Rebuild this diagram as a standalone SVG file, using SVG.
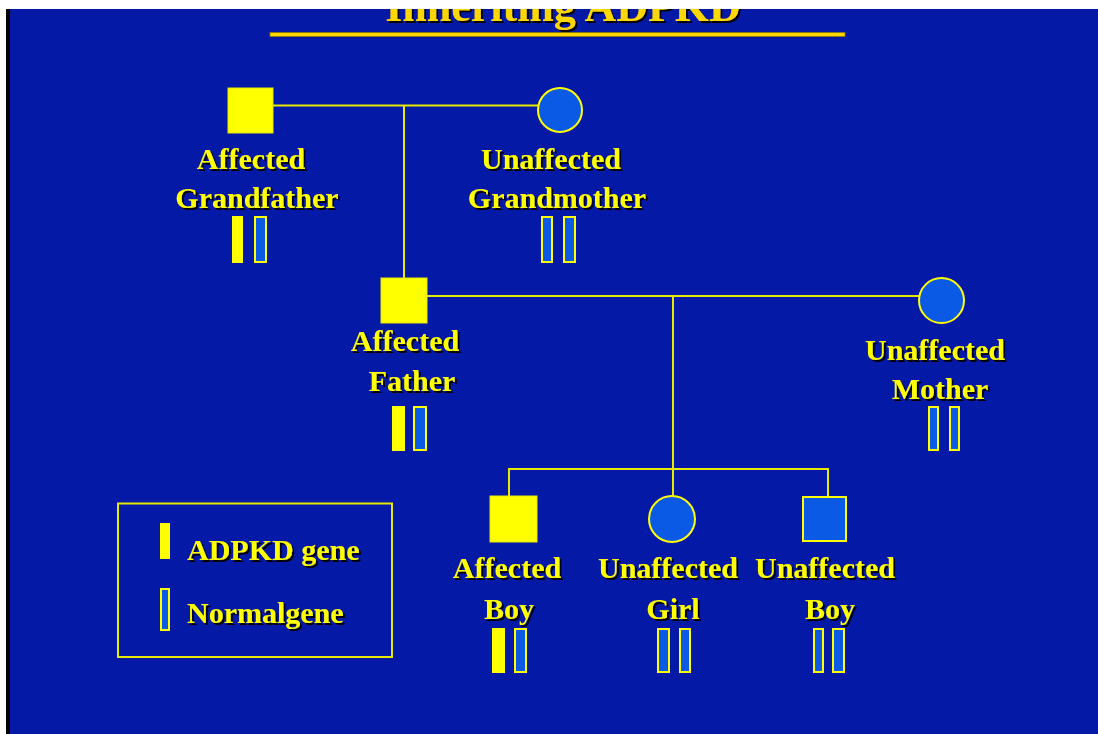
<svg xmlns="http://www.w3.org/2000/svg" width="1098" height="734" viewBox="0 0 1098 734">
  <defs>
    <filter id="shadow" x="-10%" y="-20%" width="130%" height="160%">
      <feDropShadow dx="2" dy="2" stdDeviation="0" flood-color="#000000" flood-opacity="1"/>
    </filter>
  </defs>
  <style>
    .bg { fill: #0519A7; }
    .lbl { font-family: "Liberation Serif", "Times New Roman", serif; font-weight: bold; font-size: 30px; fill: #FFFF00; text-anchor: middle; filter: url(#shadow); }
    .leg { text-anchor: start; }
    .title { font-family: "Liberation Serif", "Times New Roman", serif; font-weight: bold; font-size: 44px; fill: #FFD700; text-anchor: middle; filter: url(#shadow); }
    .aff { fill: #FFFF00; stroke: #E8E800; stroke-width: 1; }
    .unaff { fill: #0A5AE6; stroke: #FFFF00; stroke-width: 2; }
    .gA { fill: #FFFF00; }
    .gN { fill: #0A5AE6; stroke: #FFFF00; stroke-width: 2; }
    .conn line { stroke: #E8E800; stroke-width: 2; }
  </style>

  <rect x="0" y="0" width="1098" height="734" fill="#FFFFFF"/>
  <rect class="bg" x="10" y="9" width="1088" height="725"/>
  <rect x="6" y="9" width="4" height="725" fill="#000000"/>

  <g id="title">
    <text class="title" x="563" y="21">Inheriting ADPKD</text>
    <rect x="270" y="32.5" width="575" height="4" fill="#FFD700" stroke="#8a7a00" stroke-width="0.8"/>
  </g>
  <rect x="0" y="0" width="1098" height="9" fill="#FFFFFF"/>

  <g class="conn" id="connectors">
    <line x1="273" y1="105.5" x2="538" y2="105.5"/>
    <line x1="404" y1="105.5" x2="404" y2="278"/>
    <line x1="427" y1="296" x2="920" y2="296"/>
    <line x1="673" y1="296" x2="673" y2="469"/>
    <line x1="508" y1="469" x2="828" y2="469"/>
    <line x1="509" y1="468" x2="509" y2="496"/>
    <line x1="673" y1="469" x2="673" y2="496"/>
    <line x1="828" y1="468" x2="828" y2="496"/>
  </g>

  <g id="grandfather">
    <rect class="aff" x="228" y="88" width="45" height="45"/>
    <text class="lbl" x="251" y="169">Affected</text>
    <text class="lbl" x="257" y="208">Grandfather</text>
    <rect class="gA" x="232" y="216" width="11" height="47"/>
    <rect class="gN" x="255" y="217" width="11" height="45"/>
  </g>

  <g id="grandmother">
    <circle class="unaff" cx="560" cy="110" r="22"/>
    <text class="lbl" x="551" y="169">Unaffected</text>
    <text class="lbl" x="557" y="208">Grandmother</text>
    <rect class="gN" x="542" y="217" width="10" height="45"/>
    <rect class="gN" x="564" y="217" width="11" height="45"/>
  </g>

  <g id="father">
    <rect class="aff" x="381" y="278" width="46" height="45"/>
    <text class="lbl" x="405" y="351">Affected</text>
    <text class="lbl" x="412" y="391">Father</text>
    <rect class="gA" x="392" y="406" width="13" height="45"/>
    <rect class="gN" x="414" y="407" width="12" height="43"/>
  </g>

  <g id="mother">
    <circle class="unaff" cx="941.5" cy="300.5" r="22.5"/>
    <text class="lbl" x="935" y="360">Unaffected</text>
    <text class="lbl" x="940" y="399">Mother</text>
    <rect class="gN" x="929" y="407" width="9" height="43"/>
    <rect class="gN" x="950" y="407" width="9" height="43"/>
  </g>

  <g id="affected-boy">
    <rect class="aff" x="490" y="496" width="47" height="46"/>
    <text class="lbl" x="507" y="578">Affected</text>
    <text class="lbl" x="509" y="619">Boy</text>
    <rect class="gA" x="492" y="628" width="13" height="45"/>
    <rect class="gN" x="515" y="629" width="11" height="43"/>
  </g>

  <g id="unaffected-girl">
    <circle class="unaff" cx="672" cy="519" r="23"/>
    <text class="lbl" x="668" y="578">Unaffected</text>
    <text class="lbl" x="673" y="619">Girl</text>
    <rect class="gN" x="658" y="629" width="11" height="43"/>
    <rect class="gN" x="680" y="629" width="10" height="43"/>
  </g>

  <g id="unaffected-boy">
    <rect class="unaff" x="803" y="497" width="43" height="44"/>
    <text class="lbl" x="825" y="578">Unaffected</text>
    <text class="lbl" x="830" y="619">Boy</text>
    <rect class="gN" x="814" y="629" width="9" height="43"/>
    <rect class="gN" x="833" y="629" width="11" height="43"/>
  </g>

  <g id="legend">
    <rect x="118" y="503.5" width="274" height="153.5" fill="none" stroke="#E8E800" stroke-width="2"/>
    <rect class="gA" x="160" y="523" width="10" height="36"/>
    <text class="lbl leg" x="187" y="560">ADPKD gene</text>
    <rect class="gN" x="161" y="589" width="8" height="41"/>
    <text class="lbl leg" x="187" y="623">Normalgene</text>
  </g>
</svg>
